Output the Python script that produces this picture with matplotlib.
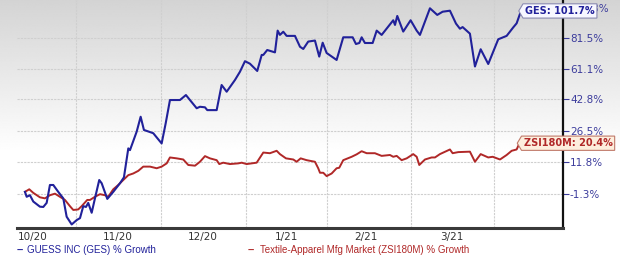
import matplotlib.pyplot as plt
from matplotlib.path import Path
import numpy as np

# x positions in months since 10/20, values in % growth
ges_x = [-0.095, -0.075, -0.036, 0.004, 0.083, 0.123, 0.163, 0.202, 0.242, 0.301,
         0.361, 0.401, 0.461, 0.520, 0.560, 0.599, 0.631, 0.658, 0.699, 0.738,
         0.789, 0.818, 0.885, 0.956, 1.036, 1.083, 1.135, 1.155, 1.235, 1.282,
         1.321, 1.432, 1.532, 1.580, 1.631, 1.750, 1.821, 1.869, 1.949, 1.988,
         2.048, 2.075, 2.187, 2.246, 2.306, 2.405, 2.464, 2.524, 2.583, 2.670,
         2.723, 2.742, 2.789, 2.881, 2.913, 2.940, 2.980, 3.020, 3.119, 3.179,
         3.218, 3.277, 3.357, 3.408, 3.449, 3.496, 3.615, 3.694, 3.806, 3.845,
         3.885, 3.913, 3.952, 4.044, 4.092, 4.151, 4.289, 4.310, 4.337, 4.408,
         4.496, 4.568, 4.607, 4.726, 4.813, 4.877, 4.964, 5.036, 5.083, 5.115,
         5.202, 5.262, 5.330, 5.420, 5.539, 5.639, 5.718, 5.758, 5.810]
ges_pct = [-0.4, -2.3, -1.7, -4.1, -6.0, -6.1, -4.6, 2.3, 2.3, -0.4,
           -2.9, -9.6, -12.3, -10.8, -10.1, -5.8, -6.1, -4.6, -8.2, -2.9,
           4.3, 3.0, -3.1, -0.4, 3.0, 5.4, 18.0, 17.2, 26.0, 33.5,
           26.8, 25.2, 20.3, 30.1, 42.5, 42.5, 45.3, 42.5, 38.0, 38.8,
           38.5, 37.0, 37.0, 51.1, 47.2, 54.1, 59.1, 65.8, 64.2, 59.6,
           69.9, 69.9, 73.2, 71.6, 86.8, 83.7, 86.0, 83.0, 83.0, 75.4,
           73.9, 79.0, 79.7, 68.8, 78.2, 71.2, 66.6, 82.0, 82.0, 77.3,
           78.0, 82.0, 78.0, 78.0, 86.8, 83.7, 94.5, 91.0, 97.8, 86.1,
           94.5, 86.8, 83.7, 103.8, 98.6, 101.1, 101.9, 92.0, 88.2, 89.4,
           84.6, 62.4, 73.7, 64.0, 80.6, 83.0, 89.2, 92.2, 101.7]

zsi_x = [-0.095, -0.044, 0.004, 0.083, 0.143, 0.202, 0.262, 0.321, 0.381, 0.440,
         0.480, 0.539, 0.580, 0.646, 0.679, 0.738, 0.798, 0.857, 0.896, 0.956,
         1.015, 1.075, 1.135, 1.194, 1.254, 1.313, 1.393, 1.473, 1.532, 1.592,
         1.631, 1.711, 1.789, 1.849, 1.929, 1.988, 2.048, 2.107, 2.187, 2.218,
         2.265, 2.345, 2.444, 2.485, 2.544, 2.663, 2.742, 2.821, 2.901, 2.940,
         3.012, 3.099, 3.139, 3.187, 3.258, 3.357, 3.396, 3.417, 3.456, 3.496,
         3.556, 3.615, 3.646, 3.694, 3.794, 3.854, 3.913, 3.973, 4.071, 4.151,
         4.250, 4.289, 4.330, 4.389, 4.449, 4.527, 4.568, 4.599, 4.667, 4.746,
         4.786, 4.845, 4.964, 4.996, 5.063, 5.202, 5.262, 5.330, 5.420, 5.473,
         5.560, 5.639, 5.699, 5.758, 5.792]
zsi_pct = [-0.4, 0.6, -0.8, -2.5, -2.9, -1.7, -1.1, -2.3, -3.5, -5.8,
           -7.2, -7.0, -5.8, -3.5, -3.5, -2.3, -1.3, -1.7, -2.3, 0.6,
           2.3, 4.3, 6.3, 7.0, 8.1, 9.9, 9.9, 9.2, 9.9, 11.3,
           13.9, 13.5, 13.0, 10.6, 10.3, 12.0, 14.5, 13.5, 12.7, 11.0,
           11.6, 11.0, 11.3, 11.6, 11.0, 11.6, 16.1, 15.8, 16.9, 15.4,
           13.5, 13.0, 12.0, 13.5, 12.7, 12.0, 9.2, 7.3, 7.3, 5.9,
           7.0, 9.2, 9.4, 12.7, 14.2, 15.3, 16.7, 15.8, 15.8, 14.6,
           15.0, 14.2, 14.6, 12.7, 13.5, 15.4, 14.2, 10.6, 13.0, 13.9,
           13.9, 15.4, 17.5, 15.8, 16.3, 16.5, 12.0, 15.4, 13.9, 14.2,
           13.0, 15.0, 16.9, 17.5, 20.4]

month_labels = ['10/20', '11/20', '12/20', '1/21', '2/21', '3/21']
month_pos = [0, 1.01, 2.02, 3.02, 3.96, 4.99]
grid_x = [0.51, 1.52, 2.54, 3.5, 4.5, 5.49]
y_ticks = [-1.3, 11.8, 26.5, 42.8, 61.1, 81.5, 104.3]

GES_COLOR = '#21219a'
ZSI_COLOR = '#b02828'
TICK_COLOR = '#3c3c9c'


def fwd(g):
    return np.log10(np.clip(1 + np.asarray(g) / 100.0, 1e-3, None))


def inv(v):
    return (10 ** np.asarray(v) - 1) * 100.0


def tag_box(x0, y0, width, height, mutation_size):
    # box with a small pointer on its left side
    pad = 0.22 * mutation_size
    x0, y0 = x0 - pad, y0 - pad
    x1, y1 = x0 + width + 2 * pad, y0 + height + 2 * pad
    tip = 0.3 * (y1 - y0)
    verts = [(x0, y0), (x1, y0), (x1, y1), (x0, y1), (x0 - tip, (y0 + y1) / 2), (x0, y0)]
    return Path(verts, closed=True)


fig = plt.figure(figsize=(6.2, 2.61), dpi=100)

# soft gray gradient behind everything
bg = fig.add_axes([0, 0, 1, 1], zorder=-10)
grad = np.clip(np.linspace(0.83, 1.12, 800), 0, 1)
bg.imshow(np.tile(grad[:, None], (1, 2)), cmap='gray', vmin=0, vmax=1,
          aspect='auto', extent=[0, 1, 0, 1], origin='upper', interpolation='bilinear')
bg.axis('off')

ax = fig.add_axes([17 / 620, 33 / 261, 546 / 620, 228 / 261])
ax.patch.set_alpha(0)
ax.set_yscale('function', functions=(fwd, inv))
ax.set_ylim(-13.5, 110.5)
ax.set_xlim(-0.19, 6.31)

for v in y_ticks[:-1]:
    ax.axhline(v, color='#cfcfcf', lw=0.8, ls=(0, (2, 1)), zorder=1)
for gx in grid_x:
    ax.axvline(gx, color='#cfcfcf', lw=0.8, ls=(0, (2, 1)), zorder=1)

ax.plot(zsi_x, zsi_pct, color=ZSI_COLOR, lw=1.4, zorder=3)
ax.plot(ges_x, ges_pct, color=GES_COLOR, lw=1.5, zorder=4)

for s in ['left', 'top']:
    ax.spines[s].set_visible(False)
ax.spines['bottom'].set_color('#3a3a3a')
ax.spines['bottom'].set_linewidth(2.2)
ax.spines['right'].set_color('#111111')
ax.spines['right'].set_linewidth(1.6)

ax.yaxis.tick_right()
ax.set_yticks(y_ticks)
ax.set_yticklabels([f'{v}%' for v in y_ticks])
ax.yaxis.set_minor_locator(plt.NullLocator())
ax.tick_params(axis='y', colors=TICK_COLOR, labelsize=7.5, length=4, width=0.8, pad=1)
ax.set_xticks(month_pos)
ax.set_xticklabels(month_labels)
ax.tick_params(axis='x', colors='#333333', labelsize=7.5, length=0, pad=3)

# end-of-line value tags
ax.annotate('GES: 101.7%', xy=(ges_x[-1], ges_pct[-1]), xytext=(3, 0),
            textcoords='offset points', ha='left', va='center',
            fontsize=7, fontweight='bold', color=GES_COLOR, annotation_clip=False,
            bbox=dict(boxstyle=tag_box, fc='#f7f7ff', ec='#8a8ab0', lw=0.8),
            zorder=6)
ax.annotate('ZSI180M: 20.4%', xy=(zsi_x[-1], zsi_pct[-1]), xytext=(3, 0),
            textcoords='offset points', ha='left', va='center',
            fontsize=7, fontweight='bold', color=ZSI_COLOR, annotation_clip=False,
            bbox=dict(boxstyle=tag_box, fc='#fdeedd', ec='#c07a6a', lw=0.8),
            zorder=6)

# legend row
fig.text(17 / 620, 11 / 261, '\u2013 ', color=GES_COLOR, fontsize=8, fontweight='bold',
         va='center', family='Liberation Sans')
fig.text(27 / 620, 11 / 261, 'GUESS INC (GES) % Growth', color=GES_COLOR, fontsize=7,
         va='center', family='Liberation Sans')
fig.text(248 / 620, 11 / 261, '\u2013 ', color=ZSI_COLOR, fontsize=8, fontweight='bold',
         va='center', family='Liberation Sans')
fig.text(260 / 620, 11 / 261, 'Textile-Apparel Mfg Market (ZSI180M) % Growth',
         color=ZSI_COLOR, fontsize=7, va='center', family='Liberation Sans')

plt.savefig('out.png', dpi=100)
plt.close()
